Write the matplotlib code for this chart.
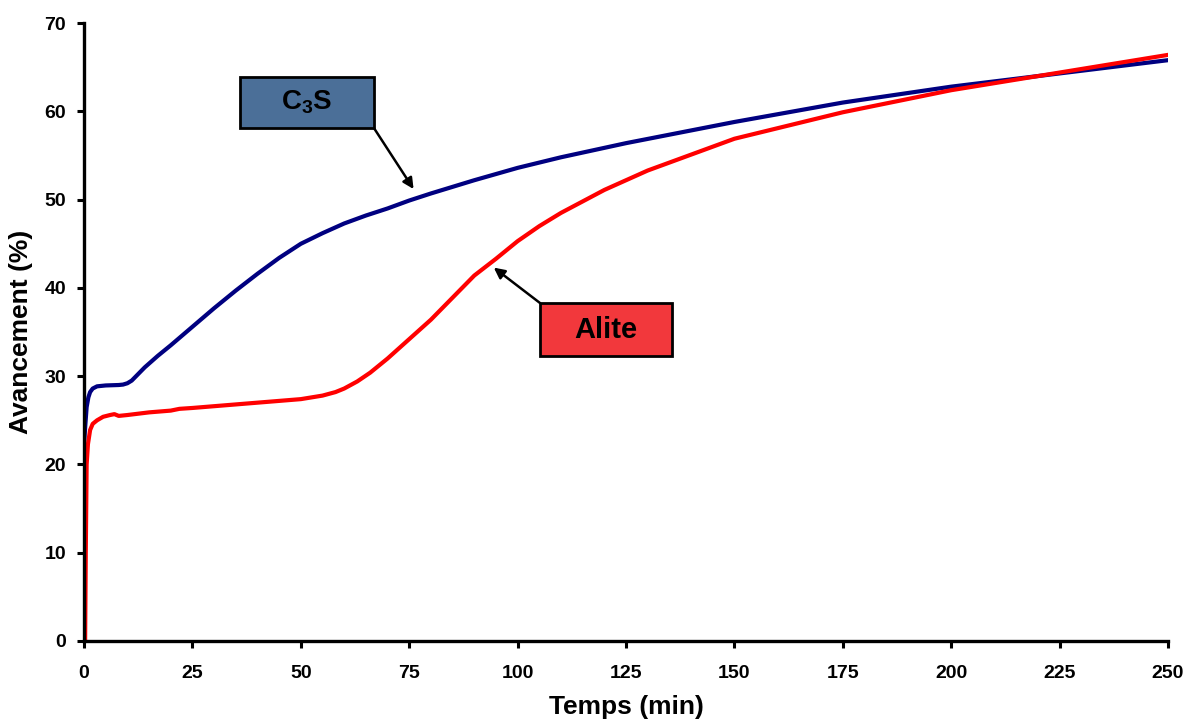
import matplotlib
matplotlib.use("Agg")
import matplotlib.pyplot as plt
from matplotlib.patches import Rectangle

plt.rcParams['font.family'] = 'Liberation Sans'
plt.rcParams['font.weight'] = 'bold'
plt.rcParams['mathtext.fontset'] = 'custom'
plt.rcParams['mathtext.rm'] = 'Liberation Sans:bold'
plt.rcParams['mathtext.default'] = 'rm'

# C3S curve (time in min, extent in %)
t_c3s = [0, 0.3, 0.6, 1, 1.4, 2, 3, 5, 8, 9, 10, 11, 12, 14, 17, 20, 25, 30, 35, 40, 45,
         50, 55, 60, 65, 70, 75, 80, 90, 100, 110, 125, 150, 175, 200, 225, 250]
c3s = [22.3, 24.5, 26.5, 27.6, 28.2, 28.6, 28.85, 28.95, 29.0, 29.05, 29.2, 29.5, 30.0,
       31.0, 32.3, 33.5, 35.6, 37.7, 39.7, 41.6, 43.4, 45.0, 46.2, 47.3, 48.2, 49.0,
       49.9, 50.7, 52.2, 53.6, 54.8, 56.4, 58.8, 61.0, 62.8, 64.3, 65.8]

# Alite curve
t_alite = [0.25, 0.4, 0.6, 0.9, 1.4, 2, 3, 4.4, 6, 7, 7.5, 8, 10, 15, 20, 22, 25, 30,
           40, 50, 55, 58, 60, 63, 66, 70, 75, 80, 85, 90, 95, 100, 105, 110, 115, 120,
           130, 140, 150, 160, 175, 200, 225, 250]
alite = [0, 10, 20, 22.3, 23.9, 24.6, 25.0, 25.4, 25.6, 25.7, 25.6, 25.5, 25.6, 25.9,
         26.1, 26.3, 26.4, 26.6, 27.0, 27.4, 27.8, 28.2, 28.6, 29.4, 30.4, 32.0, 34.2,
         36.4, 38.9, 41.4, 43.3, 45.3, 47.0, 48.5, 49.8, 51.1, 53.3, 55.1, 56.9, 58.1,
         59.9, 62.4, 64.4, 66.4]

xticks = [0, 25, 50, 75, 100, 125, 150, 175, 200, 225, 250]
yticks = [0, 10, 20, 30, 40, 50, 60, 70]

fig = plt.figure(figsize=(11.92, 7.22), dpi=100)
ax = fig.add_axes([0.0705, 0.1122, 0.9094, 0.8558])

ax.plot(t_c3s, c3s, color='#000080', lw=3, solid_joinstyle='round')
ax.plot(t_alite, alite, color='#ff0000', lw=3, solid_joinstyle='round')

ax.set_xlim(0, 250)
ax.set_ylim(0, 70)
ax.set_xticks(xticks)
ax.set_yticks(yticks)
ax.tick_params(direction='out', length=5, width=2.2, labelsize=14)
ax.tick_params(axis='x', pad=12)
ax.tick_params(axis='y', pad=8)
for s in ['top', 'right']:
    ax.spines[s].set_visible(False)
for s in ['left', 'bottom']:
    ax.spines[s].set_linewidth(2.4)

ax.set_xlabel('Temps (min)', fontsize=19, fontweight='bold', labelpad=10)
ax.set_ylabel('Avancement (%)', fontsize=19, fontweight='bold', labelpad=8)

# label boxes
box1 = (0.1439, 0.830, 0.1236, 0.0826)
box2 = (0.4207, 0.4612, 0.1217, 0.0857)
ax.add_patch(Rectangle(box1[:2], box1[2], box1[3], transform=ax.transAxes,
                       facecolor='#4b6f98', edgecolor='black', lw=2, zorder=5))
ax.add_patch(Rectangle(box2[:2], box2[2], box2[3], transform=ax.transAxes,
                       facecolor='#f2383c', edgecolor='black', lw=2, zorder=5))
ax.text(box1[0] + box1[2] / 2, box1[1] + box1[3] / 2, r'C$_3$S', transform=ax.transAxes,
        ha='center', va='center', fontsize=20, fontweight='bold', zorder=6)
ax.text(box2[0] + box2[2] / 2, box2[1] + box2[3] / 2, 'Alite', transform=ax.transAxes,
        ha='center', va='center', fontsize=21, fontweight='bold', zorder=6)

arrow = dict(arrowstyle='-|>', color='black', lw=1.8, mutation_scale=16, shrinkA=0, shrinkB=0)
ax.annotate('', xy=(76, 51.2), xycoords='data',
            xytext=(box1[0] + box1[2], box1[1]), textcoords='axes fraction', arrowprops=arrow)
ax.annotate('', xy=(94.5, 42.3), xycoords='data',
            xytext=(box2[0], box2[1] + box2[3]), textcoords='axes fraction', arrowprops=arrow)

fig.savefig('out.png', dpi=100)
